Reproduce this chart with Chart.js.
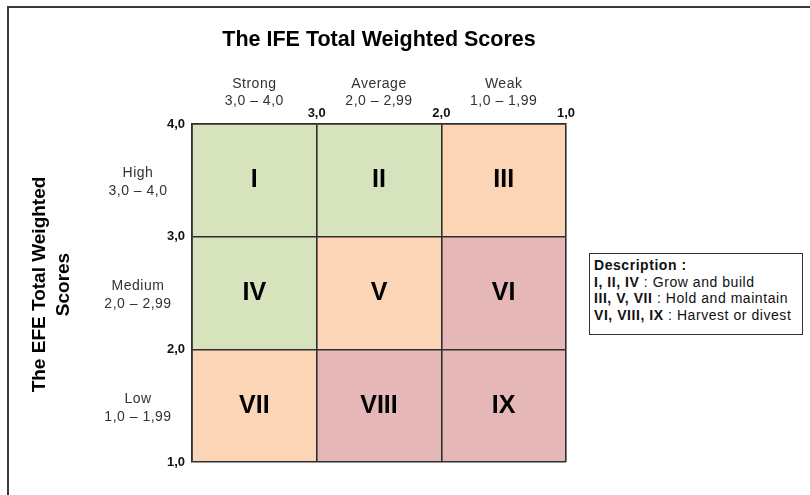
<!DOCTYPE html>
<html>
<head>
<meta charset="utf-8">
<script src="https://cdn.jsdelivr.net/npm/chart.js@4.4.1/dist/chart.umd.min.js"></script>
<style>
html,body{margin:0;padding:0;background:#fff;width:810px;height:495px;overflow:hidden;}
#frame{position:absolute;left:7px;top:6px;width:900px;height:600px;border-left:2px solid #3a3a3a;border-top:2px solid #3a3a3a;}
#wrap{position:absolute;left:0;top:0;width:810px;height:495px;}
#desc{position:absolute;left:589px;top:253px;width:214px;height:82px;box-sizing:border-box;border:1.5px solid #333;padding:3px 0 0 4px;font-family:"Liberation Sans",Arial,sans-serif;font-size:14px;line-height:16.7px;letter-spacing:0.55px;color:#111;white-space:nowrap;background:#fff;}
</style>
</head>
<body>
<div id="frame"></div>
<div id="wrap"><canvas id="c" width="810" height="495"></canvas></div>
<div id="desc"></div>
<script>
// ---- data ----
const chartTitle = 'The IFE Total Weighted Scores';
const yTitleLines = ['The EFE Total Weighted', 'Scores'];
const ifeCategories = ['Strong', 'Average', 'Weak'];
const ifeRanges = ['3,0 \u2013 4,0', '2,0 \u2013 2,99', '1,0 \u2013 1,99'];
const ifeBounds = [4, 3, 2, 1];
const efeCategories = ['High', 'Medium', 'Low'];
const efeRanges = ['3,0 \u2013 4,0', '2,0 \u2013 2,99', '1,0 \u2013 1,99'];
const efeBounds = [4, 3, 2, 1];
const cellLabels = [['I', 'II', 'III'], ['IV', 'V', 'VI'], ['VII', 'VIII', 'IX']];
const cellGroups = [[0, 0, 1], [0, 1, 2], [1, 2, 2]];
const descTitle = 'Description :';
const descGroups = ['I, II, IV', 'III, V, VII', 'VI, VIII, IX'];
const descActions = ['Grow and build', 'Hold and maintain', 'Harvest or divest'];

// ---- styles ----
const groupColors = ['#D6E3BC', '#FBD5B5', '#E5B8B7'];
const FONT = '"Liberation Sans", Arial, sans-serif';
const LINE = '#2e2e2e';
const fmt = v => v.toFixed(1).replace('.', ',');

// ---- description box ----
document.getElementById('desc').innerHTML =
  '<b>' + descTitle + '</b><br>' +
  descGroups.map((g, i) => '<b>' + g + '</b> : ' + descActions[i]).join('<br>');

// ---- cells as filled line datasets ----
const datasets = [];
for (let r = 0; r < 3; r++) {
  for (let c = 0; c < 3; c++) {
    datasets.push({
      label: cellLabels[r][c],
      data: [{x: ifeBounds[c], y: efeBounds[r + 1]}, {x: ifeBounds[c + 1], y: efeBounds[r + 1]}],
      fill: {value: efeBounds[r]},
      backgroundColor: groupColors[cellGroups[r][c]],
      borderWidth: 0,
      pointRadius: 0,
      tension: 0
    });
  }
}

const labelsPlugin = {
  id: 'matrixLabels',
  afterDraw(chart) {
    const {ctx, chartArea, scales: {x, y}} = chart;
    ctx.save();
    // main title
    ctx.fillStyle = '#000';
    ctx.textAlign = 'center';
    ctx.textBaseline = 'alphabetic';
    ctx.font = 'bold 21.5px ' + FONT;
    ctx.fillText(chartTitle, (chartArea.left + chartArea.right) / 2, 46);

    // column labels
    ctx.fillStyle = '#333';
    ctx.font = '14px ' + FONT;
    try { ctx.letterSpacing = '0.5px'; } catch (e) {}
    for (let c = 0; c < 3; c++) {
      const cx = (x.getPixelForValue(ifeBounds[c]) + x.getPixelForValue(ifeBounds[c + 1])) / 2;
      ctx.fillText(ifeCategories[c], cx, 88);
      ctx.fillText(ifeRanges[c], cx, 105);
    }
    // row labels
    for (let r = 0; r < 3; r++) {
      const cy = (y.getPixelForValue(efeBounds[r]) + y.getPixelForValue(efeBounds[r + 1])) / 2;
      ctx.fillText(efeCategories[r], 138, cy - 3);
      ctx.fillText(efeRanges[r], 138, cy + 15);
    }
    try { ctx.letterSpacing = '0px'; } catch (e) {}

    // y title (rotated)
    ctx.fillStyle = '#000';
    ctx.font = 'bold 19px ' + FONT;
    ctx.save();
    ctx.translate(51.5, 284.5);
    ctx.rotate(-Math.PI / 2);
    ctx.textBaseline = 'middle';
    ctx.fillText(yTitleLines[0], 0, -12);
    ctx.fillText(yTitleLines[1], 0, 12);
    ctx.restore();

    // cell numerals
    ctx.fillStyle = '#000';
    ctx.font = 'bold 25px ' + FONT;
    ctx.textBaseline = 'middle';
    for (let r = 0; r < 3; r++) {
      const cy = (y.getPixelForValue(efeBounds[r]) + y.getPixelForValue(efeBounds[r + 1])) / 2;
      for (let c = 0; c < 3; c++) {
        const cx = (x.getPixelForValue(ifeBounds[c]) + x.getPixelForValue(ifeBounds[c + 1])) / 2;
        ctx.fillText(cellLabels[r][c], cx, cy);
      }
    }
    ctx.restore();
  }
};

new Chart(document.getElementById('c'), {
  type: 'line',
  data: {datasets},
  options: {
    responsive: false,
    animation: false,
    events: [],
    layout: {padding: {left: 0, top: 0, right: 244, bottom: 33}},
    plugins: {legend: {display: false}, tooltip: {enabled: false}, title: {display: false}},
    scales: {
      x: {
        type: 'linear', position: 'top', reverse: true, min: 1, max: 4,
        afterFit: s => { s.height = 124; },
        grid: {color: LINE, lineWidth: 1.6, drawTicks: false, z: 1},
        border: {color: LINE, width: 1.6, z: 1},
        ticks: {stepSize: 1, padding: 3, color: '#111',
          font: {family: FONT, size: 13, weight: 'bold'},
          callback: v => v === 4 ? '' : fmt(v)}
      },
      y: {
        type: 'linear', position: 'left', min: 1, max: 4,
        afterFit: s => { s.width = 192; },
        grid: {color: LINE, lineWidth: 1.6, drawTicks: false, z: 1},
        border: {color: LINE, width: 1.6, z: 1},
        ticks: {stepSize: 1, padding: 7, color: '#111',
          font: {family: FONT, size: 13, weight: 'bold'},
          callback: v => fmt(v)}
      }
    }
  },
  plugins: [labelsPlugin]
});
</script>
</body>
</html>
